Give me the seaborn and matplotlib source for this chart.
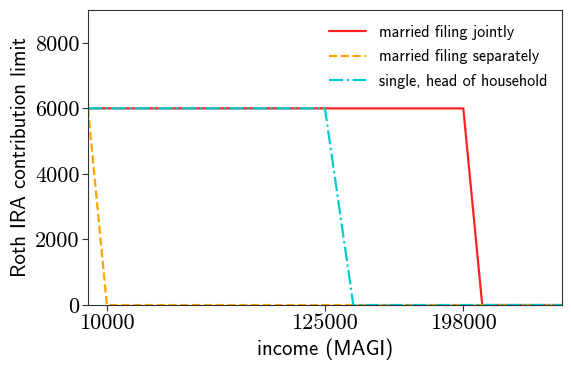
import pandas as pd
import matplotlib
matplotlib.use('Agg')
import matplotlib.pyplot as plt
import seaborn as sns

# income breakpoints (MAGI) and contribution limits
income_joint = [0, 198000, 208000, 250000]
limit_joint = [6000, 6000, 0, 0]
income_separate = [0, 10000, 250000]
limit_separate = [6000, 0, 0]
income_single = [0, 125000, 140000, 250000]
limit_single = [6000, 6000, 0, 0]
xticks = [10000, 125000, 198000]
yticks = [0, 2000, 4000, 6000, 8000]

sns.set_style('white')
plt.rcParams['axes.edgecolor'] = '#333333'
plt.rcParams['text.color'] = 'black'
plt.rcParams['axes.labelcolor'] = 'black'
plt.rcParams['xtick.color'] = 'black'
plt.rcParams['ytick.color'] = 'black'

fig = plt.figure(figsize=(5.71, 3.72), dpi=100)
ax = fig.add_axes([0.154, 0.180, 0.830, 0.793])

df_j = pd.DataFrame({'income': income_joint, 'limit': limit_joint})
df_s = pd.DataFrame({'income': income_separate, 'limit': limit_separate})
df_h = pd.DataFrame({'income': income_single, 'limit': limit_single})

sns.lineplot(data=df_j, x='income', y='limit', ax=ax, color='#ff2020', lw=1.6,
             label='married filing jointly')
sns.lineplot(data=df_s, x='income', y='limit', ax=ax, color='orange', lw=1.6,
             ls='--', label='married filing separately')
sns.lineplot(data=df_h, x='income', y='limit', ax=ax, color='#00cdd0', lw=1.6,
             ls='-.', label='single, head of household')

ax.set_xlim(0, 250000)
ax.set_ylim(0, 9000)
ax.set_xticks(xticks)
ax.set_yticks(yticks)
ax.set_xticklabels([str(t) for t in xticks], fontfamily='cmr10', fontsize=16)
ax.set_yticklabels([str(t) for t in yticks], fontfamily='cmr10', fontsize=16)
ax.tick_params(axis='both', which='major', bottom=True, left=True, length=4,
               width=0.8, color='#333333', pad=2)
ax.set_xlabel('income (MAGI)', fontfamily='cmss10', fontsize=15)
ax.set_ylabel('Roth IRA contribution limit', fontfamily='cmss10', fontsize=15)

leg = ax.legend(loc='upper right', frameon=False, prop={'family': 'cmss10', 'size': 11.6},
                handlelength=2.3, labelspacing=0.6)

plt.savefig('out.png', dpi=100)
